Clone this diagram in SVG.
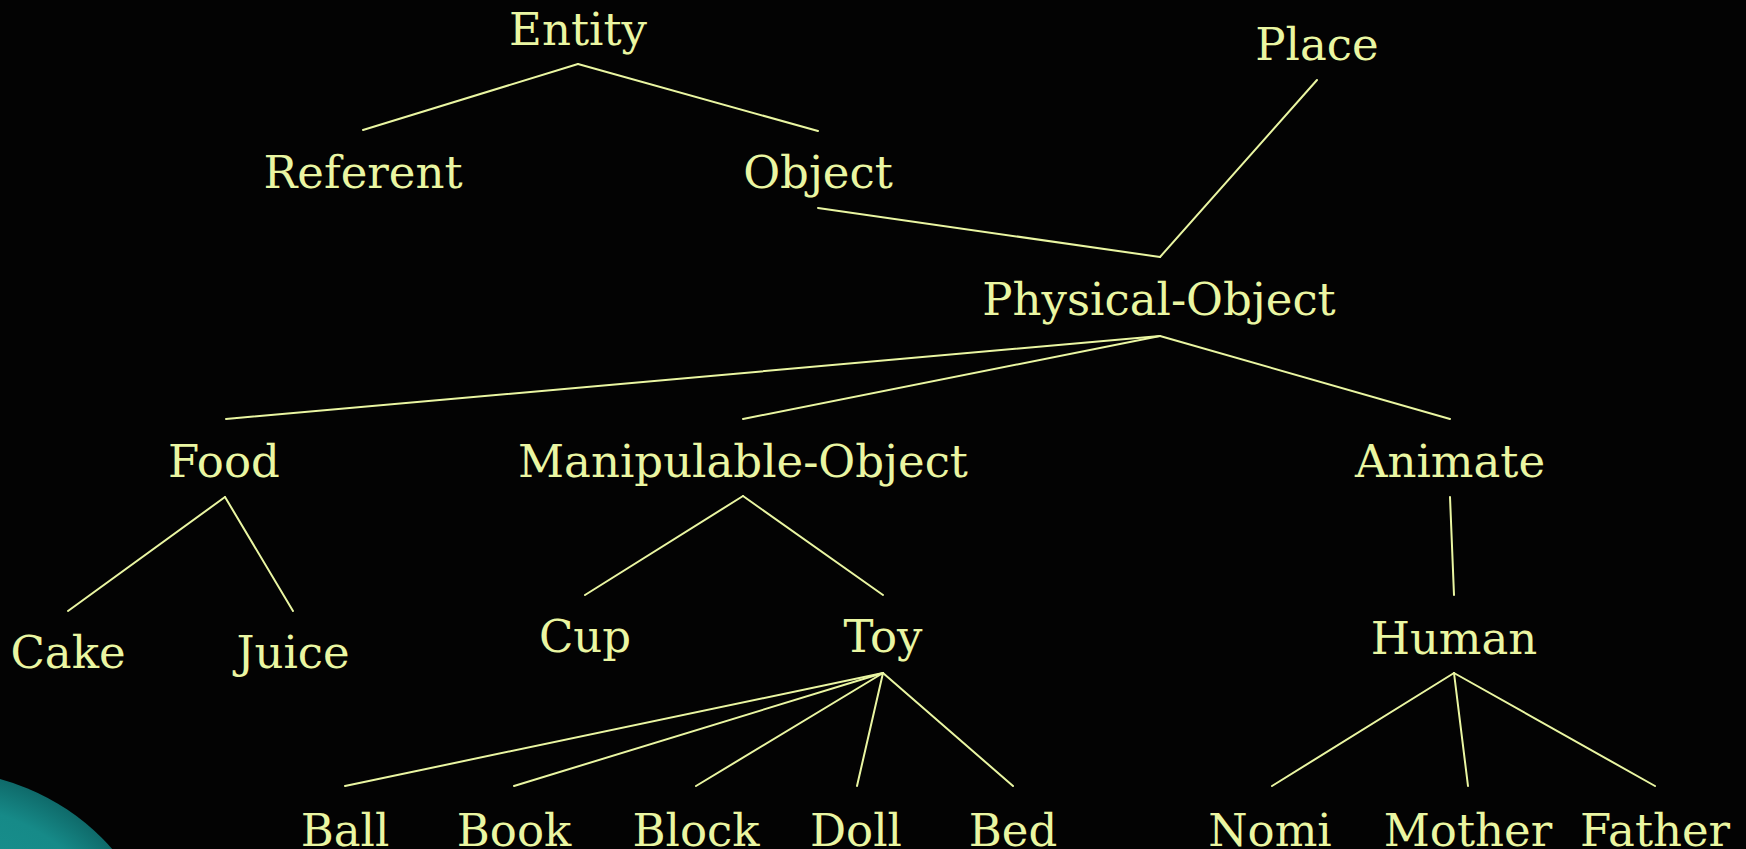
<svg xmlns="http://www.w3.org/2000/svg" width="1746" height="849" viewBox="0 0 1746 849">
  <defs>
    <radialGradient id="orb" cx="-60" cy="1000" r="229" gradientUnits="userSpaceOnUse">
      <stop offset="0" stop-color="#1c9a98"/>
      <stop offset="0.85" stop-color="#168a88"/>
      <stop offset="1" stop-color="#0f6a6a"/>
    </radialGradient>
    <style>
      .lbl { font-family: "DejaVu Serif", "Liberation Serif", serif; font-size: 45px; fill: #eaf6a2; text-anchor: middle; }
      .edge { stroke: #eaf6a2; stroke-width: 2; fill: none; stroke-linecap: round; }
    </style>
  </defs>
  <rect width="1746" height="849" fill="#030303"/>
  <circle cx="-60" cy="1000" r="229" fill="url(#orb)"/>

  <g id="connectors">
    <line class="edge" x1="578" y1="64" x2="363" y2="130"/>
    <line class="edge" x1="578" y1="64" x2="818" y2="131"/>
    <line class="edge" x1="818" y1="208" x2="1160" y2="257"/>
    <line class="edge" x1="1317" y1="80" x2="1160" y2="257"/>
    <line class="edge" x1="1160" y1="336" x2="226" y2="419"/>
    <line class="edge" x1="1160" y1="336" x2="743" y2="419"/>
    <line class="edge" x1="1160" y1="336" x2="1450" y2="419"/>
    <line class="edge" x1="225" y1="497" x2="68" y2="611"/>
    <line class="edge" x1="225" y1="497" x2="293" y2="611"/>
    <line class="edge" x1="743" y1="496" x2="585" y2="595"/>
    <line class="edge" x1="743" y1="496" x2="883" y2="595"/>
    <line class="edge" x1="1450" y1="497" x2="1454" y2="595"/>
    <line class="edge" x1="883" y1="673" x2="345" y2="786"/>
    <line class="edge" x1="883" y1="673" x2="514" y2="786"/>
    <line class="edge" x1="883" y1="673" x2="696" y2="786"/>
    <line class="edge" x1="883" y1="673" x2="857" y2="786"/>
    <line class="edge" x1="883" y1="673" x2="1013" y2="786"/>
    <line class="edge" x1="1454" y1="673" x2="1272" y2="786"/>
    <line class="edge" x1="1454" y1="673" x2="1468" y2="786"/>
    <line class="edge" x1="1454" y1="673" x2="1655" y2="786"/>
  </g>

  <g id="entity"><text class="lbl" x="578" y="45">Entity</text></g>
  <g id="place"><text class="lbl" x="1317" y="60">Place</text></g>
  <g id="referent"><text class="lbl" x="363" y="188">Referent</text></g>
  <g id="object"><text class="lbl" x="818" y="188">Object</text></g>
  <g id="physical-object"><text class="lbl" x="1159" y="315">Physical-Object</text></g>
  <g id="food"><text class="lbl" x="224" y="477">Food</text></g>
  <g id="manipulable-object"><text class="lbl" x="743" y="477">Manipulable-Object</text></g>
  <g id="animate"><text class="lbl" x="1450" y="477">Animate</text></g>
  <g id="cake"><text class="lbl" x="68" y="668">Cake</text></g>
  <g id="juice"><text class="lbl" x="293" y="668">Juice</text></g>
  <g id="cup"><text class="lbl" x="585" y="652">Cup</text></g>
  <g id="toy"><text class="lbl" x="883" y="652">Toy</text></g>
  <g id="human"><text class="lbl" x="1454" y="654">Human</text></g>
  <g id="ball"><text class="lbl" x="345" y="846">Ball</text></g>
  <g id="book"><text class="lbl" x="514" y="846">Book</text></g>
  <g id="block"><text class="lbl" x="696" y="846">Block</text></g>
  <g id="doll"><text class="lbl" x="856" y="846">Doll</text></g>
  <g id="bed"><text class="lbl" x="1013" y="846">Bed</text></g>
  <g id="nomi"><text class="lbl" x="1270" y="846">Nomi</text></g>
  <g id="mother"><text class="lbl" x="1468" y="846">Mother</text></g>
  <g id="father"><text class="lbl" x="1655" y="846">Father</text></g>
</svg>
